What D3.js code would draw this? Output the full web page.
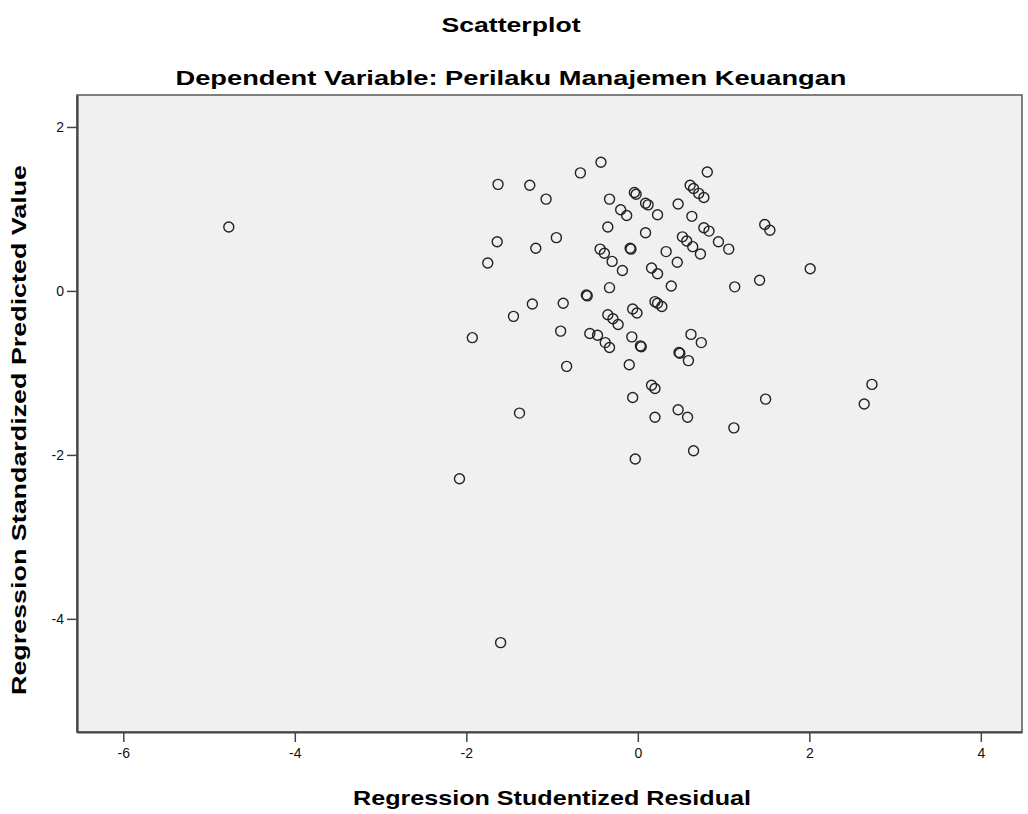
<!DOCTYPE html>
<html lang="en">
<head>
<meta charset="UTF-8">
<script src="https://d3js.org/d3.v7.min.js"></script>
<title>Scatterplot</title>
<style>
  body { margin: 0; background: #fff; }
  text { font-family: "Liberation Sans", Arial, sans-serif; }
</style>
</head>
<body>
<svg id="chart" width="1028" height="814"></svg>
<script>
// Regression studentized residual (x) vs standardized predicted value (y)
var residual = [
  -4.77, -1.60, -2.08, -1.93, -1.38, -1.63, -1.26, -1.07, -0.67, -0.43,
  -0.33, -0.04, -0.02, -0.20, -0.13, 0.09, 0.12, 0.23, 0.47, 0.61,
  0.65, 0.71, 0.77, 0.81, 0.63, 0.77, 0.83, 0.94, 1.06, -0.35,
  0.09, -1.64, -1.19, -0.95, -1.75, -0.44, -0.39, -0.30, -0.18, -0.09,
  -0.08, 0.33, 0.46, 0.52, 0.57, 0.64, 0.73, 0.16, 0.23, 0.39,
  1.13, 1.42, 2.01, 1.48, 1.54, -0.33, -0.60, -0.59, -1.23, -0.87,
  -1.45, -0.35, -0.29, -0.23, -0.06, -0.01, 0.20, 0.23, 0.28, -0.90,
  -0.56, -0.47, -0.38, -0.33, -0.07, 0.03, 0.04, -0.83, -0.10, 0.62,
  0.74, 0.48, 0.49, 0.59, 0.16, 0.20, -0.06, 0.20, 0.47, 0.58,
  1.12, 1.49, 0.65, -0.03, 2.73, 2.64
];
var predicted = [
  0.78, -4.29, -2.29, -0.57, -1.49, 1.30, 1.29, 1.12, 1.44, 1.57,
  1.12, 1.20, 1.18, 0.99, 0.92, 1.07, 1.05, 0.93, 1.06, 1.29,
  1.25, 1.19, 1.14, 1.45, 0.91, 0.77, 0.73, 0.60, 0.51, 0.78,
  0.71, 0.60, 0.52, 0.65, 0.34, 0.51, 0.46, 0.36, 0.25, 0.52,
  0.51, 0.48, 0.35, 0.66, 0.61, 0.54, 0.45, 0.28, 0.21, 0.06,
  0.05, 0.13, 0.27, 0.81, 0.74, 0.04, -0.05, -0.06, -0.16, -0.15,
  -0.31, -0.29, -0.34, -0.41, -0.22, -0.27, -0.13, -0.15, -0.19, -0.49,
  -0.52, -0.54, -0.63, -0.69, -0.56, -0.67, -0.68, -0.92, -0.90, -0.53,
  -0.63, -0.75, -0.76, -0.85, -1.15, -1.19, -1.30, -1.54, -1.45, -1.54,
  -1.67, -1.32, -1.95, -2.05, -1.14, -1.38
];
var xTicks = [-6, -4, -2, 0, 2, 4];
var yTicks = [2, 0, -2, -4];

var svg = d3.select("#chart");

// plot box edges
var plotL = 77, plotR = 1022, plotT = 95, plotB = 732;

var x = d3.scaleLinear().domain([-6.54, 4.48]).range([plotL, plotR]);
var y = d3.scaleLinear().domain([-5.38, 2.39]).range([plotB, plotT]);

// plot background
svg.append("rect")
    .attr("x", plotL).attr("y", plotT)
    .attr("width", plotR - plotL).attr("height", plotB - plotT)
    .attr("fill", "#f0f0f0")
    .attr("stroke", "#555")
    .attr("stroke-width", 1.5);

// axes
var fmt = function(d) { return d < 0 ? "-" + Math.abs(d) : d; };
var xAxis = svg.append("g")
    .attr("transform", "translate(0," + plotB + ")")
    .call(d3.axisBottom(x).tickValues(xTicks).tickSize(10).tickSizeOuter(0).tickPadding(6).tickFormat(fmt));
var yAxis = svg.append("g")
    .attr("transform", "translate(" + plotL + ",0)")
    .call(d3.axisLeft(y).tickValues(yTicks).tickSize(10).tickSizeOuter(0).tickPadding(3).tickFormat(fmt));

[xAxis, yAxis].forEach(function(g) {
  g.select(".domain").attr("stroke", "#444").attr("stroke-width", 2.2);
  g.selectAll(".tick line").attr("stroke", "#444").attr("stroke-width", 1.5);
  g.selectAll(".tick text")
      .attr("fill", "#111")
      .style("font-size", "14px")
      .style("font-family", "'Liberation Sans', Arial, sans-serif");
});

// points
var pts = residual.map(function(r, i) { return [r, predicted[i]]; });
svg.append("g")
    .selectAll("circle")
    .data(pts)
    .enter()
    .append("circle")
        .attr("cx", function(d) { return x(d[0]); })
        .attr("cy", function(d) { return y(d[1]); })
        .attr("r", 5)
        .attr("fill", "none")
        .attr("stroke", "#222")
        .attr("stroke-width", 1.4);

// titles
svg.append("text")
    .attr("x", 511).attr("y", 32)
    .attr("text-anchor", "middle")
    .attr("font-weight", "bold").attr("font-size", 20)
    .attr("textLength", 139).attr("lengthAdjust", "spacingAndGlyphs")
    .text("Scatterplot");

svg.append("text")
    .attr("x", 511).attr("y", 85)
    .attr("text-anchor", "middle")
    .attr("font-weight", "bold").attr("font-size", 21)
    .attr("textLength", 671).attr("lengthAdjust", "spacingAndGlyphs")
    .text("Dependent Variable: Perilaku Manajemen Keuangan");

svg.append("text")
    .attr("x", 552).attr("y", 805)
    .attr("text-anchor", "middle")
    .attr("font-weight", "bold").attr("font-size", 21)
    .attr("textLength", 398).attr("lengthAdjust", "spacingAndGlyphs")
    .text("Regression Studentized Residual");

svg.append("text")
    .attr("transform", "translate(26,430) rotate(-90)")
    .attr("text-anchor", "middle")
    .attr("font-weight", "bold").attr("font-size", 21)
    .attr("textLength", 530).attr("lengthAdjust", "spacingAndGlyphs")
    .text("Regression Standardized Predicted Value");
</script>
</body>
</html>
